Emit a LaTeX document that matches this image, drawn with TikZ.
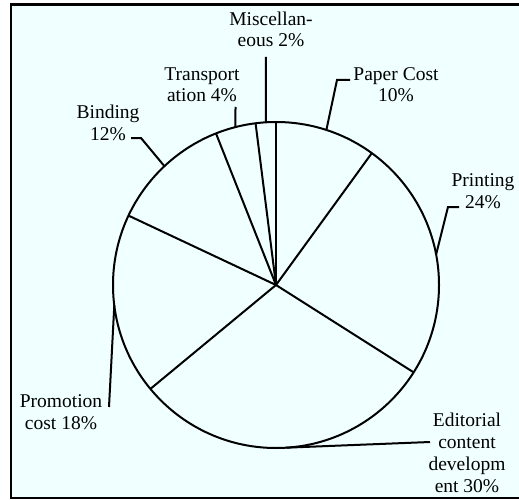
\documentclass[tikz,border=0pt]{standalone}
\usepackage{fontspec}
\setmainfont{Liberation Serif}
\usetikzlibrary{calc}
\definecolor{bg}{HTML}{F0FFFF}
\begin{document}
\begin{tikzpicture}[x=1pt,y=-1pt,
  lbl/.style={align=center,font=\fontsize{19.5}{21.8}\selectfont,inner sep=0pt,anchor=base},
  ln/.style={line width=2pt},
  lead/.style={line width=2pt}]
\useasboundingbox (0,0) rectangle (519,500);
\draw[fill=bg,line width=2.2pt] (11,4.5) rectangle (530,498);
\coordinate (c) at (276,285);
\draw[ln] (c) circle (163);
% slice borders
\foreach \a/\n in {90/s1,54/s2,-32.4/s3,-140.4/s4,154.8/s5,111.6/s6,97.2/s7}{
  \coordinate (\n) at ($(c)+(-\a:163)$);
}
\foreach \n in {s1,s2,s3,s4,s5,s6,s7}{\draw[ln] (c) -- (\n);}
% arc mid-points
\coordinate (mPaper) at ($(c)+(-72:163)$);
\coordinate (mPrint) at ($(c)+(-10.8:163)$);
\coordinate (mEdit) at ($(c)+(86.4:163)$);
\coordinate (mPromo) at ($(c)+(-187.2:163)$);
\coordinate (mBind) at ($(c)+(-133.2:163)$);
\coordinate (mTrans) at ($(c)+(-104.4:163)$);
\coordinate (mMisc) at ($(c)+(-93.6:163)$);
% labels (anchored at the baseline of the last line)
\node[lbl] (lMisc) at (271,47) {Miscellan-\\eous 2\%};
\node[lbl] (lTrans) at (202,102) {Transport\\ation 4\%};
\node[lbl] (lBind) at (108,140) {Binding\\12\%};
\node[lbl] (lPaper) at (396,102) {Paper Cost\\10\%};
\node[lbl] (lPrint) at (483,208) {Printing\\24\%};
\node[lbl] (lEdit) at (467,492) {Editorial\\content\\developm\\ent\ 30\%};
\node[lbl] (lPromo) at (61,429) {Promotion\\cost 18\%};
% leader elbows
\coordinate (kMisc) at (265.8,57);
\coordinate (kTrans) at (235.5,107);
\coordinate (kBind1) at (141,138);
\coordinate (kBind2) at (131,138);
\coordinate (kPaper1) at (337,80);
\coordinate (kPaper2) at (350,80);
\coordinate (kPrint1) at (448,207);
\coordinate (kPrint2) at (459,207);
\coordinate (kEdit) at (430,442);
\coordinate (kPromo) at (109,407);
\draw[lead] (mMisc) -- (kMisc);
\draw[lead] (mTrans) -- (kTrans);
\draw[lead] (mBind) -- (kBind1) -- (kBind2);
\draw[lead] (mPaper) -- (kPaper1) -- (kPaper2);
\draw[lead] (mPrint) -- (kPrint1) -- (kPrint2);
\draw[lead] (mEdit) -- (kEdit);
\draw[lead] (mPromo) -- (kPromo);
\end{tikzpicture}
\end{document}
